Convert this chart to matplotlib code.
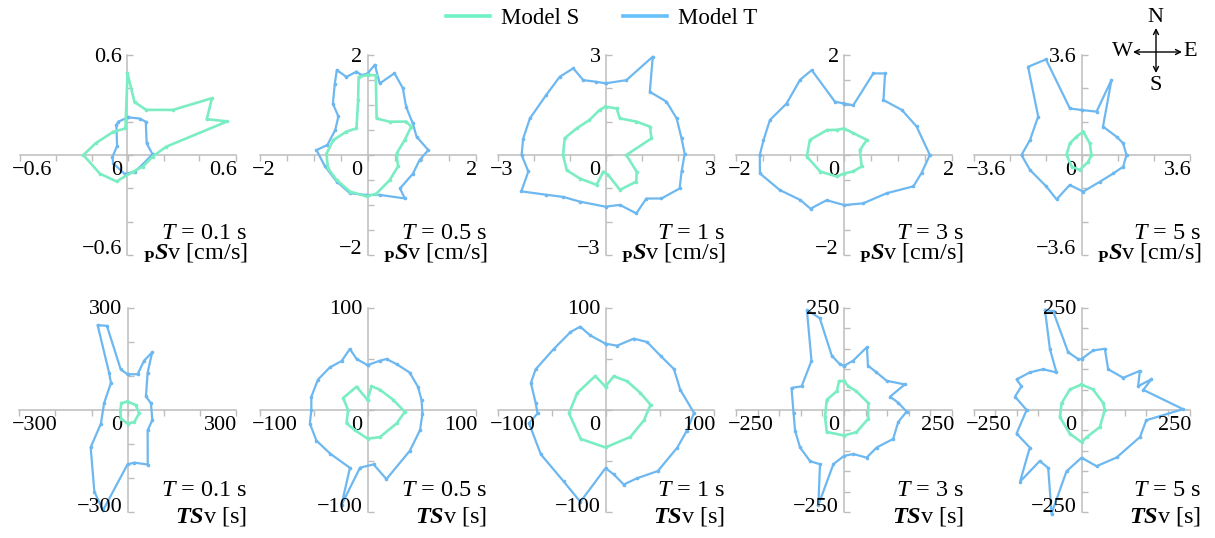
import numpy as np
import matplotlib
matplotlib.use("Agg")
import matplotlib.pyplot as plt
from matplotlib.lines import Line2D

# --- fonts (Times-like) ---
plt.rcParams['font.family'] = ['Liberation Serif', 'DejaVu Serif']
plt.rcParams['mathtext.fontset'] = 'custom'
plt.rcParams['mathtext.rm'] = 'Liberation Serif'
plt.rcParams['mathtext.it'] = 'Liberation Serif:italic'
plt.rcParams['mathtext.bf'] = 'Liberation Serif:bold'
plt.rcParams['mathtext.bfit'] = 'Liberation Serif:bold:italic'

COR_S = '#7BEDC2'
COR_T = '#6DB8F0'
CINZA = '#BDBDBD'

# --- panel settings ---
periods = ['0.1', '0.5', '1', '3', '5']
psv_lim = [0.6, 2, 3, 2, 3.6]
psv_lab = ['0.6', '2', '3', '2', '3.6']
psv_step = [0.2, 0.5, 1, 0.5, 1.2]
tsv_lim = [300, 100, 100, 250, 250]
tsv_lab = ['300', '100', '100', '250', '250']
tsv_step = [100, 50, 50, 50, 50]

# --- data: azimuth (deg, clockwise from N) and radius ---
# PSv, T = 0.1 s
psv01_s_az = [0, 7, 21, 43, 54, 64, 70, 77, 94, 129, 163, 201, 234, 270, 292, 330, 356]
psv01_s_r = [0.49, 0.32, 0.29, 0.37, 0.58, 0.49, 0.59, 0.22, 0.14, 0.11, 0.105, 0.17, 0.19, 0.245, 0.19, 0.16, 0.16]
psv01_t_az = [1, 17, 27, 57, 88, 122, 158, 188, 238, 263, 313, 341, 346]
psv01_t_r = [0.226, 0.229, 0.224, 0.127, 0.139, 0.102, 0.108, 0.115, 0.094, 0.084, 0.079, 0.19, 0.207]
# PSv, T = 0.5 s
psv05_s_az = [0, 5.5, 13, 31.5, 47, 55, 66.5, 87, 112, 141, 168, 181, 204, 229, 250, 272, 295, 320, 339, 351, 354]
psv05_s_r = [1.6, 1.6, 0.75, 0.78, 0.98, 0.99, 0.75, 0.54, 0.61, 0.65, 0.79, 0.83, 0.8, 0.76, 0.78, 0.76, 0.7, 0.61, 0.57, 1.11, 1.57]
psv05_t_az = [0, 4.3, 9, 17, 26, 36.6, 53, 68, 85, 96, 114, 138, 141.5, 164, 181, 203, 227, 254, 276, 285, 310, 325, 328, 337, 341.5, 346, 353, 356]
psv05_t_r = [1.63, 1.81, 1.45, 1.71, 1.49, 1.2, 1.05, 0.98, 1.13, 0.97, 0.92, 0.9, 1.11, 0.83, 0.8, 0.83, 0.78, 0.82, 0.95, 0.77, 0.78, 0.94, 1.21, 1.55, 1.79, 1.61, 1.68, 1.6]
# PSv, T = 1 s
psv1_s_az = [0, 12.5, 20, 40.7, 55.4, 68.7, 90, 120, 133, 159, 173, 187, 195.5, 225, 247, 270, 294, 315, 337, 353]
psv1_s_r = [1.45, 1.43, 1.17, 1.32, 1.5, 1.37, 0.58, 1.0, 1.17, 1.12, 0.6, 0.5, 0.93, 1.0, 1.17, 1.18, 1.24, 1.13, 1.14, 1.36]
psv1_t_az = [0, 14.5, 24, 33, 46.6, 61, 76.7, 89, 103, 116, 130, 139, 154, 165, 180, 207, 223, 234, 245, 257, 270, 282, 297.6, 317.6, 331.6, 341, 344.6, 353.5]
psv1_t_r = [2.15, 2.32, 3.23, 2.26, 2.33, 2.26, 2.17, 2.2, 2.17, 2.29, 2.03, 1.73, 1.95, 1.55, 1.55, 1.57, 1.72, 2.03, 2.58, 2.2, 2.33, 2.34, 2.37, 2.44, 2.67, 2.75, 2.33, 2.21]
# PSv, T = 3 s
psv3_s_az = [0, 21.6, 54.5, 71.6, 125, 153, 180, 197.6, 233, 267.5, 295.5, 327.6, 345]
psv3_s_r = [0.53, 0.47, 0.52, 0.31, 0.4, 0.37, 0.37, 0.45, 0.55, 0.69, 0.7, 0.59, 0.52]
psv3_t_az = [0, 9.8, 18.4, 25, 33.6, 50, 67, 90, 104, 116, 134, 160, 180, 199.6, 210, 222, 239.5, 256.7, 270, 281, 297, 314, 331.6, 340.6, 351]
psv3_t_r = [1.03, 1.01, 1.72, 1.8, 1.32, 1.4, 1.46, 1.59, 1.48, 1.43, 1.1, 1.03, 1.0, 0.96, 1.24, 1.21, 1.38, 1.6, 1.56, 1.52, 1.54, 1.48, 1.71, 1.8, 1.08]
# PSv, T = 5 s
psv5_s_az = [4, 33.7, 90, 137, 186, 218, 270, 317, 345.5]
psv5_s_r = [0.84, 0.5, 0.33, 0.33, 0.54, 0.53, 0.5, 0.57, 0.68]
psv5_t_az = [0, 17.8, 20.3, 35, 60.6, 73, 90, 107, 122, 147.6, 177.5, 200, 207.5, 226, 252.6, 270, 287.4, 313.8, 330.7, 341, 347]
psv5_t_r = [1.62, 1.64, 2.88, 1.25, 1.34, 1.45, 1.5, 1.45, 1.25, 1.14, 1.32, 1.15, 1.8, 1.63, 1.8, 2.0, 1.8, 2.0, 3.64, 3.64, 1.72]

# TSv, T = 0.1 s
tsv01_s_az = [0, 57, 107, 152, 180, 216, 270, 320]
tsv01_s_r = [25, 27, 34, 40, 40, 31, 20, 26]
tsv01_t_az = [0, 15, 17.6, 22, 27, 52, 73, 113, 137, 160.7, 173, 180, 193, 201, 223, 241.6, 287, 330, 335, 341.6, 347, 351]
tsv01_t_r = [105, 109, 152, 183, 123, 65, 68, 75, 82, 170, 156, 160, 303, 257, 150, 84, 68, 92, 121, 263, 254, 121]
# TSv, T = 0.5 s
tsv05_s_az = [0, 9, 29.7, 67, 93, 116, 157, 180, 210, 236, 270, 297.5, 336]
tsv05_s_r = [10, 23.6, 23, 25.8, 34.6, 30, 29, 28, 23, 23.4, 18, 25.4, 25]
tsv05_t_az = [0, 13, 19.4, 31, 46.7, 64, 79, 94, 112, 135.7, 165.5, 174, 187, 194.5, 196, 219, 237.5, 256, 270, 284, 303, 320, 333.5, 344.7, 348.7]
tsv05_t_r = [44, 49.5, 53, 52.4, 53.6, 52, 51, 51, 52.5, 56, 70, 53.6, 57, 96, 59, 55, 56, 55, 52, 53.6, 54.7, 54.4, 53.7, 62, 51]
# TSv, T = 1 s
tsv1_s_az = [0, 13, 35.5, 62.7, 83, 106, 139, 180, 219, 264.5, 302.6, 344]
tsv1_s_r = [23, 34, 34.6, 36.4, 42, 37, 35, 36.7, 36.5, 34, 31, 34.6]
tsv1_t_az = [0, 9.7, 20.5, 30, 44, 57.6, 74, 92, 105, 119, 141, 156.5, 167, 173, 180, 194.5, 209, 234, 259.6, 267, 276, 291, 301.6, 321.5, 337, 344, 349]
tsv1_t_r = [65, 64, 74.7, 77, 73.6, 75, 72, 82, 78, 76, 77, 73, 75, 63.7, 57, 93, 80, 74, 72, 63, 65, 74, 76, 76.7, 83, 85, 74.6]
# TSv, T = 3 s
tsv3_s_az = [0, 9.8, 32, 73, 111, 152, 180, 216.5, 249, 302, 340, 351]
tsv3_s_r = [71, 59, 54, 58.8, 60, 61.5, 62.5, 67, 47, 47, 49, 72]
tsv3_t_az = [0, 10, 19, 27, 39, 54, 66, 73, 82, 91.6, 103, 122, 140.6, 155.8, 168.7, 180, 190.5, 194.3, 202.7, 212, 228, 246, 266, 294, 300.6, 328, 340.7, 346, 348, 355]
tsv3_t_r = [108, 123, 163, 122, 119, 122, 154, 111.5, 127, 145, 129, 134, 119, 128, 110, 112.5, 135, 240, 144, 148, 137, 124, 117, 133, 114, 142, 260, 232, 136, 113]
# TSv, T = 5 s
tsv5_s_az = [0, 28, 71, 90, 134.7, 170, 180, 205, 251, 290, 332]
tsv5_s_r = [62.5, 57, 53, 54, 59.6, 67.7, 79, 64, 53, 49, 57]
tsv5_t_az = [0, 10.5, 19.8, 31.7, 50.7, 54.6, 66, 65, 71, 89.5, 99.5, 116, 145, 165.8, 180, 193, 195.3, 208.5, 217.7, 219, 232.4, 249, 270, 282, 292.7, 296.5, 307.6, 318.4, 327.8, 334, 341, 344.8, 347.7, 356.5]
tsv5_t_r = [125, 148.5, 159.5, 117.5, 124.7, 165.6, 143.5, 178.5, 151.5, 235, 152, 150.7, 142, 142, 117, 154, 263, 161.5, 158, 226, 151, 161, 127, 157.5, 150.6, 168, 151, 133.7, 108.7, 167, 260, 250.7, 145, 125]

psv_curves = [
    (psv01_s_az, psv01_s_r, psv01_t_az, psv01_t_r),
    (psv05_s_az, psv05_s_r, psv05_t_az, psv05_t_r),
    (psv1_s_az, psv1_s_r, psv1_t_az, psv1_t_r),
    (psv3_s_az, psv3_s_r, psv3_t_az, psv3_t_r),
    (psv5_s_az, psv5_s_r, psv5_t_az, psv5_t_r),
]
tsv_curves = [
    (tsv01_s_az, tsv01_s_r, tsv01_t_az, tsv01_t_r),
    (tsv05_s_az, tsv05_s_r, tsv05_t_az, tsv05_t_r),
    (tsv1_s_az, tsv1_s_r, tsv1_t_az, tsv1_t_r),
    (tsv3_s_az, tsv3_s_r, tsv3_t_az, tsv3_t_r),
    (tsv5_s_az, tsv5_s_r, tsv5_t_az, tsv5_t_r),
]

# --- layout (pixels) ---
W, H = 1215, 538
col_x = [127.5, 367.5, 605.5, 844, 1081.5]
row_y = [155, 410]
half_w = 108
half_h = [100, 102]
unit_off = [-3, -11]


def polar_xy(az, r):
    a = np.radians(np.append(az, az[0]))
    rr = np.append(r, r[0])
    return rr * np.sin(a), rr * np.cos(a)


def desenha_painel(ax, R, step, lab, curvas, periodo, unidade, off_u):
    ax.set_xlim(-R, R)
    ax.set_ylim(-R, R)
    ax.set_facecolor('none')
    for s in ['top', 'right']:
        ax.spines[s].set_visible(False)
    for s in ['left', 'bottom']:
        ax.spines[s].set_position(('data', 0))
        ax.spines[s].set_color(CINZA)
        ax.spines[s].set_linewidth(1.1)
    ticks = np.arange(-R, R + step / 2, step)
    ax.set_xticks(ticks)
    ax.set_yticks(ticks)
    ax.tick_params(axis='x', direction='out', length=4, width=1, color=CINZA, labelbottom=False)
    ax.tick_params(axis='y', direction='in', length=4, width=1, color=CINZA, labelleft=False)

    az_s, r_s, az_t, r_t = curvas
    x, y = polar_xy(az_t, r_t)
    ax.plot(x, y, color=COR_T, lw=1.6, marker='o', ms=1.6, clip_on=False, zorder=3)
    x, y = polar_xy(az_s, r_s)
    ax.plot(x, y, color=COR_S, lw=1.9, marker='o', ms=1.6, clip_on=False, zorder=4)

    kw = dict(textcoords='offset pixels', fontsize=16, annotation_clip=False)
    ax.annotate(lab, (0, R), xytext=(-5, -2), ha='right', va='center', **kw)
    ax.annotate('\u2212' + lab, (0, -R), xytext=(-5, 5), ha='right', va='center', **kw)
    ax.annotate('\u2212' + lab, (-R, 0), xytext=(-8, -6), ha='left', va='top', **kw)
    ax.annotate(lab, (R, 0), xytext=(2, -6), ha='right', va='top', **kw)
    ax.annotate('0', (0, 0), xytext=(-5, -6), ha='right', va='top', **kw)

    kw2 = dict(textcoords='offset pixels', fontsize=17.5, annotation_clip=False,
               ha='right', va='baseline')
    ax.annotate(r'$T$ = ' + periodo + ' s', (R, -R), xytext=(12, 16), **kw2)
    ax.annotate(unidade, (R, -R), xytext=(12, off_u), **kw2)


fig = plt.figure(figsize=(W / 100, H / 100), dpi=100)

for linha in range(2):
    oy = row_y[linha]
    hh = half_h[linha]
    for col in range(5):
        ox = col_x[col]
        ax = fig.add_axes([(ox - half_w) / W, 1 - (oy + hh) / H, 2 * half_w / W, 2 * hh / H])
        if linha == 0:
            desenha_painel(ax, psv_lim[col], psv_step[col], psv_lab[col], psv_curves[col],
                           periods[col], r'$_\mathbf{P}\mathbfit{S}$v [cm/s]', unit_off[0])
        else:
            desenha_painel(ax, tsv_lim[col], tsv_step[col], tsv_lab[col], tsv_curves[col],
                           periods[col], r'$\mathbfit{TS}$v [s]', unit_off[1])

# legend
handles = [Line2D([], [], color='#6EF2C6', lw=2.6), Line2D([], [], color='#66C0FA', lw=2.6)]
fig.legend(handles, ['Model S', 'Model T'], loc='center', bbox_to_anchor=(602 / W, 1 - 18 / H),
           ncol=2, frameon=False, fontsize=16.5, handlelength=1.9, handletextpad=0.5,
           columnspacing=1.9)

# compass rose
ov = fig.add_axes([0, 0, 1, 1])
ov.set_xlim(0, W)
ov.set_ylim(H, 0)
ov.axis('off')
seta = dict(arrowstyle='<->', lw=1, color='black', mutation_scale=9, shrinkA=0, shrinkB=0)
ov.annotate('', xy=(1133, 52), xytext=(1182, 52), arrowprops=seta)
ov.annotate('', xy=(1156, 28), xytext=(1156, 73), arrowprops=seta)
ov.text(1155.5, 18, 'N', ha='center', va='center', fontsize=16)
ov.text(1155.5, 85, 'S', ha='center', va='center', fontsize=16)
ov.text(1122, 52, 'W', ha='center', va='center', fontsize=16)
ov.text(1190, 52, 'E', ha='center', va='center', fontsize=16)

fig.savefig('out.png', dpi=100)
